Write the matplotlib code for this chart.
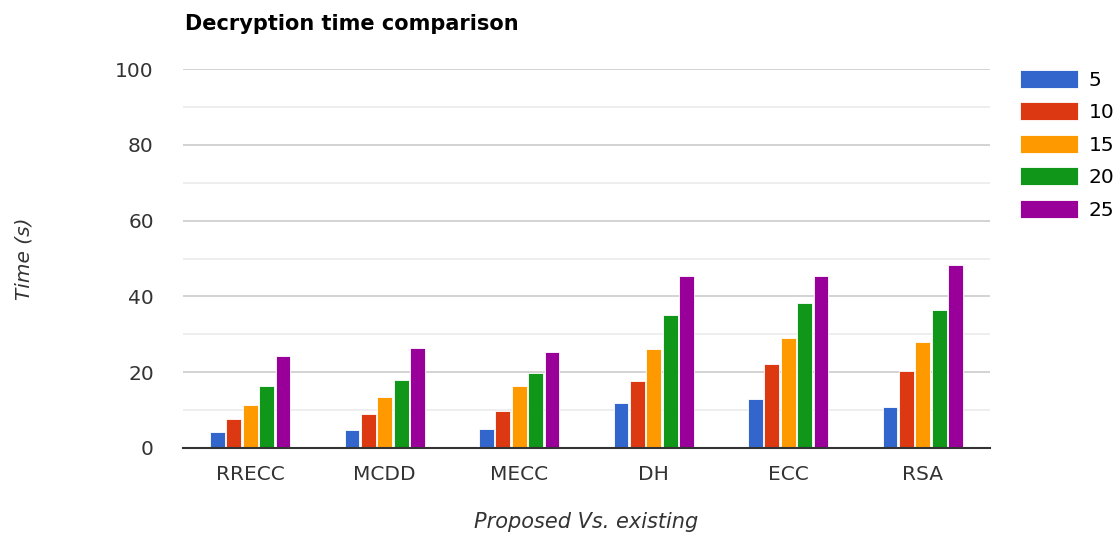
import matplotlib.pyplot as plt
import numpy as np

plt.rcParams['font.family'] = ['DejaVu Sans']

methods = ['RRECC', 'MCDD', 'MECC', 'DH', 'ECC', 'RSA']
series = ['5', '10', '15', '20', '25']
t5 = [4.2, 4.7, 5.0, 11.8, 13.0, 10.9]
t10 = [7.6, 8.9, 9.7, 17.6, 22.2, 20.2]
t15 = [11.4, 13.5, 16.4, 26.1, 29.0, 28.1]
t20 = [16.4, 18.0, 19.7, 35.2, 38.2, 36.5]
t25 = [24.3, 26.4, 25.2, 45.3, 45.3, 48.3]
colors = ['#3366cc', '#dc3912', '#ff9900', '#109618', '#990099']

fig = plt.figure(figsize=(11.18, 5.36), dpi=100)
ax = fig.add_axes([0.1637, 0.1642, 0.7218, 0.707])

x = np.arange(len(methods))
slot = 0.122
for i, (vals, col, lab) in enumerate(zip([t5, t10, t15, t20, t25], colors, series)):
    ax.bar(x + (i - 2) * slot, vals, width=slot * 0.9, color=col,
           edgecolor='white', linewidth=0.6, label=lab, zorder=3)

ax.set_xlim(-0.5, len(methods) - 0.5)
ax.set_ylim(0, 100)
ax.set_yticks(range(0, 101, 20))
ax.set_yticks(range(10, 100, 20), minor=True)
ax.grid(axis='y', which='major', color='#cccccc', linewidth=1.2, zorder=0)
ax.grid(axis='y', which='minor', color='#ebebeb', linewidth=1.2, zorder=0)
ax.set_xticks(x)
ax.set_xticklabels(methods)
ax.tick_params(axis='both', which='both', length=0, labelsize=14.5, colors='#333333')
ax.tick_params(axis='y', pad=21)
ax.tick_params(axis='x', pad=12)
for s in ['top', 'right', 'left']:
    ax.spines[s].set_visible(False)
ax.spines['bottom'].set_color('#333333')
ax.spines['bottom'].set_linewidth(1.5)
ax.spines['bottom'].set_zorder(4)

ax.set_xlabel('Proposed Vs. existing', fontsize=15, style='italic', color='#333333')
ax.xaxis.set_label_coords(0.5, -0.168)
ax.set_ylabel('Time (s)', fontsize=14.5, style='italic', color='#333333')
ax.yaxis.set_label_coords(-0.185, 0.5)

fig.text(185 / 1118, 1 - 24 / 536, 'Decryption time comparison', fontsize=15,
         fontweight='bold', va='center', ha='left')

fig.legend(loc='upper left', bbox_to_anchor=(1012 / 1118, 1 - 62 / 536), frameon=False,
           fontsize=14.5, handlelength=2.9, handleheight=1.0, labelspacing=0.62,
           handletextpad=0.5, borderaxespad=0)

fig.savefig('out.png', dpi=100)
